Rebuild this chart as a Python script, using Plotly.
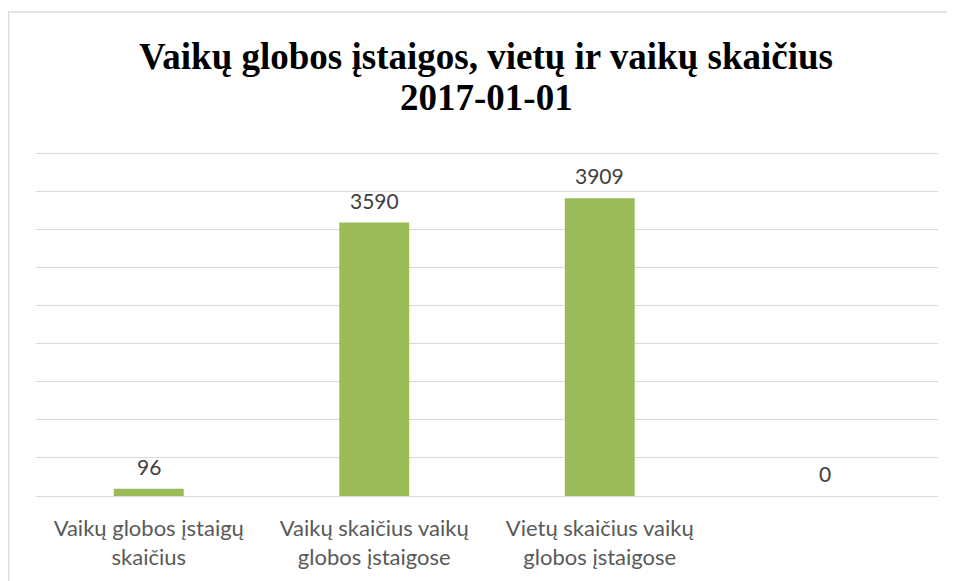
import plotly.graph_objects as go

categories = ["Vaikų globos įstaigų<br>skaičius",
              "Vaikų skaičius vaikų<br>globos įstaigose",
              "Vietų skaičius vaikų<br>globos įstaigose",
              " "]
values = [96, 3590, 3909, 0]
value_labels = ["96", "3590", "3909", "0"]
title_lines = ["Vaikų globos įstaigos, vietų ir vaikų skaičius", "2017-01-01"]

Y_MAX = 4530  # a little above the last 4500 grid line so it is drawn

# the page body has an 8px margin; compensate so the figure lands on the reference pixels
OFF = 8
W, H = 955 - OFF, 581 - OFF
L, R, B = 36 - OFF, 17, 85
bottom = H - B
ph = round(343 * Y_MAX / 4500)
T = bottom - ph
pw = W - L - R


def py(page_y):
    return (bottom - (page_y - OFF)) / ph


def px(page_x):
    return (page_x - OFF - L) / pw


fig = go.Figure(go.Bar(
    x=categories, y=values,
    marker=dict(color="#9BBB59", line=dict(width=0)),
    cliponaxis=False, hoverinfo="skip",
))

label_font = dict(family="Lato, Open Sans, sans-serif", size=21, color="#404040")
title_font = dict(family="Liberation Serif, Times New Roman, serif", size=37, color="black",
                  weight="bold")

annotations = [
    dict(text=lab, x=cat, y=val, xref="x", yref="y", xanchor="center", yanchor="bottom",
         yshift=8, showarrow=False, font=label_font)
    for cat, val, lab in zip(categories, values, value_labels)
]
annotations += [
    dict(text=title_lines[0], xref="paper", yref="paper", x=px(486), y=py(56),
         xanchor="center", yanchor="middle", showarrow=False, font=title_font),
    dict(text=title_lines[1], xref="paper", yref="paper", x=px(486), y=py(97),
         xanchor="center", yanchor="middle", showarrow=False, font=title_font),
]

fig.update_layout(
    width=W, height=H, margin=dict(l=L, r=R, t=T, b=B),
    paper_bgcolor="white", plot_bgcolor="white",
    bargap=0.69, showlegend=False,
    xaxis=dict(showgrid=False, showline=False, ticks="", zeroline=False,
               ticklabelstandoff=17,
               tickfont=dict(family="Lato, Open Sans, sans-serif", size=22, color="#595959")),
    yaxis=dict(range=[0, Y_MAX], dtick=500, showticklabels=False, showgrid=True,
               gridcolor="#D9D9D9", gridwidth=1, zeroline=True, zerolinecolor="#D9D9D9",
               zerolinewidth=1, showline=False, ticks=""),
    annotations=annotations,
    shapes=[dict(type="rect", xref="paper", yref="paper",
                 x0=px(8.5), x1=1.2, y0=-0.5, y1=py(12),
                 line=dict(color="#D9D9D9", width=1.5), fillcolor="rgba(0,0,0,0)", layer="below")],
)

fig.write_html("out.html")
